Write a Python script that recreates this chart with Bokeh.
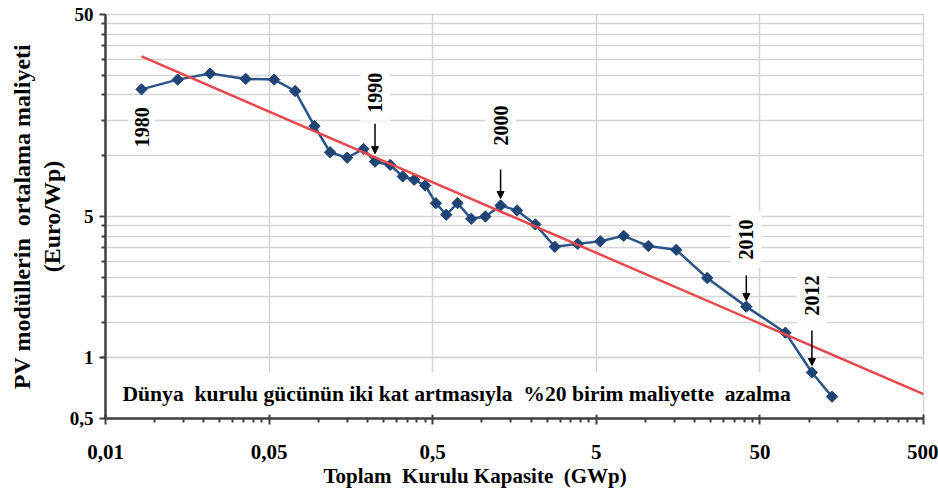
import math

from bokeh.embed import file_html
from bokeh.models import Arrow, FixedTicker, Label, NormalHead, Range1d, Title
from bokeh.plotting import figure
from bokeh.resources import INLINE

# PV module experience curve, 1980-2013
years = list(range(1980, 2014))
capacity_gwp = [0.0083, 0.0138, 0.0218, 0.036, 0.0537, 0.0721, 0.0947, 0.118, 0.150, 0.189,
                0.222, 0.275, 0.328, 0.385, 0.450, 0.523, 0.605, 0.709, 0.860, 1.05,
                1.30, 1.64, 2.12, 2.79, 3.85, 5.29, 7.35, 10.4, 15.4, 23.8,
                41.3, 71.6, 104.0, 138.0]
module_cost = [21.3, 23.8, 25.5, 24.0, 23.8, 20.9, 14.0, 10.4, 9.77, 10.8,
               9.34, 9.0, 7.89, 7.60, 7.12, 5.82, 5.10, 5.82, 4.87, 5.0,
               5.67, 5.36, 4.57, 3.54, 3.66, 3.77, 4.01, 3.57, 3.42, 2.48,
               1.79, 1.33, 0.845, 0.641]

# 20 % learning-rate trend line (end points)
trend_x = [0.0083, 500.0]
trend_y = [31.0, 0.66]

# axis ticks and their labels
x_ticks = [0.005, 0.05, 0.5, 5.0, 50.0, 500.0]
x_tick_labels = ["0,01", "0,05", "0,5", "5", "50", "500"]
y_ticks = [0.5, 1.0, 5.0, 50.0]
y_tick_labels = ["0,5", "1", "5", "50"]

arrow_years = [1990, 2000, 2010, 2012]

NBSP = "\u00a0"
note_text = ("Dünya" + NBSP + " kurulu gücünün iki kat artmasıyla" + NBSP
             + " %20 birim maliyette" + NBSP + " azalma")
x_title = "Toplam" + NBSP + " Kurulu Kapasite" + NBSP + " (GWp)"
y_title_1 = "PV modüllerin" + NBSP + " ortalama maliyeti"
y_title_2 = "(Euro/Wp)"

FONT = "Liberation Serif"
GRID = "#d6d6d6"
AXIS = "#404040"

FRAME_H = 404
PX_PER_DECADE = FRAME_H / 2.0  # cost axis spans two decades


def lift(v, px):
    """Value lying px pixels above v on the log cost axis."""
    return v * 10 ** (px / PX_PER_DECADE)


p = figure(width=938, height=488, x_axis_type="log", y_axis_type="log",
           x_range=Range1d(0.005, 500), y_range=Range1d(0.5, 50),
           output_backend="svg", toolbar_location=None,
           min_border_left=105, min_border_right=15,
           min_border_top=14, min_border_bottom=70)
p.background_fill_color = "white"
p.border_fill_color = "white"
p.outline_line_color = GRID
p.outline_line_width = 1.5

x_minor = [round(t * m, 6) for t in x_ticks[:-1] for m in range(2, 10)]
y_minor = [round(t * m, 6) for t in (0.5, 5.0) for m in range(2, 10)]
x_ticker = FixedTicker(ticks=x_ticks, minor_ticks=x_minor)
y_ticker = FixedTicker(ticks=y_ticks, minor_ticks=y_minor)

p.xaxis.ticker = x_ticker
p.yaxis.ticker = y_ticker
p.xgrid.ticker = x_ticker
p.ygrid.ticker = y_ticker
p.xaxis.major_label_overrides = dict(zip(x_ticks, x_tick_labels))
p.yaxis.major_label_overrides = dict(zip(y_ticks, y_tick_labels))

p.xgrid.grid_line_color = GRID
p.xgrid.grid_line_width = 1.5
p.ygrid.grid_line_color = GRID
p.ygrid.grid_line_width = 1.5
p.ygrid.minor_grid_line_color = GRID
p.ygrid.minor_grid_line_width = 1.5

for ax in (p.xaxis, p.yaxis):
    ax.axis_line_color = AXIS
    ax.axis_line_width = 2.5
    ax.major_tick_line_color = AXIS
    ax.major_tick_line_width = 2
    ax.minor_tick_line_color = AXIS
    ax.minor_tick_line_width = 2
    ax.major_tick_out = 6
    ax.minor_tick_in = 0
    ax.minor_tick_out = 4
    ax.major_label_text_font = FONT
    ax.major_label_text_font_style = "bold"
    ax.major_label_text_color = "black"

p.xaxis.major_tick_in = 4
p.xaxis.major_label_text_font_size = "21px"
p.xaxis.major_label_standoff = 20
p.yaxis.major_tick_in = 0
p.yaxis.major_label_text_font_size = "19px"
p.yaxis.major_label_standoff = 6

# cost curve and trend
p.line(capacity_gwp, module_cost, line_color="#2b5487", line_width=2.5)
p.scatter(capacity_gwp, module_cost, marker="square", angle=math.pi / 4, size=8,
          fill_color="#1f4577", line_color="#1f4577")
p.line(trend_x, trend_y, line_color="#e8474c", line_width=2.5)

# year labels: (text lift, arrow start lift, arrow end lift) in pixels
year_style = {1990: (41, 38, 8), 2000: (52, 36, 7), 2010: (39, 31, 6), 2012: (49, 42, 7)}

p.add_layout(Label(x=capacity_gwp[0], y=module_cost[0], y_offset=-12, text=str(years[0]),
                   angle=math.pi / 2, text_align="right", text_baseline="middle",
                   text_font=FONT, text_font_style="bold", text_font_size="20px",
                   text_color="black", background_fill_color="white", padding=6))

for yr in arrow_years:
    i = years.index(yr)
    xv, yv = capacity_gwp[i], module_cost[i]
    t_off, a0, a1 = year_style[yr]
    p.add_layout(Label(x=xv, y=yv, y_offset=t_off, text=str(yr), angle=math.pi / 2,
                       text_align="left", text_baseline="middle", text_font=FONT,
                       text_font_style="bold", text_font_size="20px", text_color="black",
                       background_fill_color="white", padding=8))
    p.add_layout(Arrow(x_start=xv, y_start=lift(yv, a0), x_end=xv, y_end=lift(yv, a1),
                       line_color="black", line_width=1.5,
                       end=NormalHead(size=7, fill_color="black", line_color="black")))

# learning-rate note
p.add_layout(Label(x=8, y=25, x_units="screen", y_units="screen", text=note_text,
                   text_font=FONT, text_font_style="bold", text_font_size="21.6px",
                   text_color="black", text_baseline="alphabetic",
                   background_fill_color="white", padding=9))

# axis titles
p.add_layout(Title(text=x_title, align="left", offset=218, standoff=0,
                   text_font=FONT, text_font_style="bold", text_font_size="21px",
                   text_color="black"), "below")
p.add_layout(Title(text=y_title_2, align="center", offset=-16, standoff=4,
                   text_font=FONT, text_font_style="bold", text_font_size="24px",
                   text_color="black"), "left")
p.add_layout(Title(text=y_title_1, align="center", offset=-16, standoff=0,
                   text_font=FONT, text_font_style="bold", text_font_size="24px",
                   text_color="black"), "left")

open("out.html", "w").write(file_html(p, INLINE))
